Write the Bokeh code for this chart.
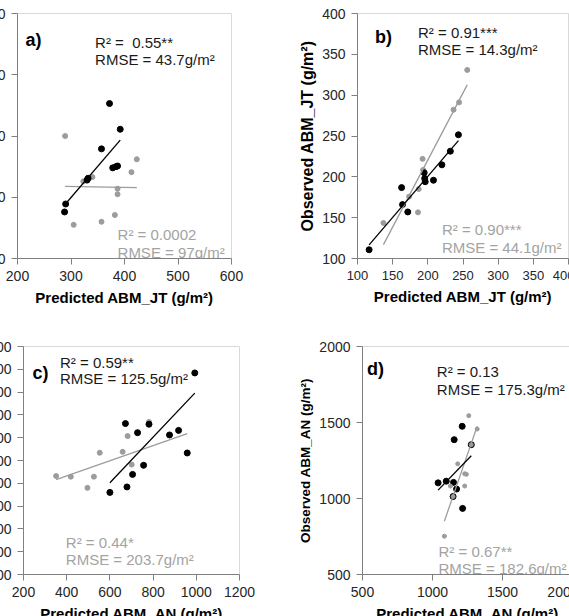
import numpy as np
from bokeh.plotting import figure
from bokeh.layouts import column, row
from bokeh.models import Range1d, FixedTicker, Label
from bokeh.embed import file_html
from bokeh.resources import INLINE

# ---- panel a: ABM_JT, predicted vs observed (g/m2) ----
a_black_pred = [372, 392, 357, 378, 384, 387, 332, 330, 290, 288]
a_black_obs = [453, 411, 379, 348, 350, 351, 331, 328, 289, 276]
a_gray_pred = [289, 423, 413, 340, 323, 387, 387, 382, 357, 305]
a_gray_obs = [400, 362, 341, 333, 326, 314, 305, 271, 260, 255]

# ---- panel b: ABM_JT ----
b_black_pred = [116.5, 164, 162.7, 171.5, 194.8, 195.5, 196.3, 208, 220, 232, 243.5]
b_black_obs = [110.7, 166, 186.8, 157, 205, 198, 194, 195.8, 214.7, 231.4, 251.5]
b_gray_pred = [136.9, 173.4, 187, 186, 192.5, 193.3, 236.6, 244.4, 256]
b_gray_obs = [143.5, 175.8, 185, 156.5, 222, 208.5, 282.2, 291.2, 330.9]

# ---- panel c: ABM_AN ----
c_black_pred = [600, 679, 705, 756, 672, 728, 781, 876, 918, 993]
c_black_obs = [560, 584, 639, 679, 862, 822, 859, 812, 832, 1084]
c_gray_pred = [351, 419, 496, 526, 553, 659, 682, 701, 781, 958]
c_gray_obs = [632, 629, 580, 629, 734, 738, 807, 682, 869, 733]

# ---- panel d: ABM_AN ----
d_black_pred = [1040, 1098, 1150, 1172, 1147, 1215, 1155, 1212, 1277]
d_black_obs = [1103, 1114, 1106, 1062, 1013, 935, 1387, 1475, 1354]
d_gray_pred = [1259, 1180, 1230, 1242, 1128, 1230, 1085, 1319, 1277, 1147]
d_gray_obs = [1545, 1228, 1163, 1159, 1082, 1082, 752, 1457, 1354, 1013]

# axis ticks
a_ticks = [200, 300, 400, 500, 600]
b_ticks = [100, 150, 200, 250, 300, 350, 400]
c_xticks = [200, 400, 600, 800, 1000, 1200]
c_yticks = [200, 300, 400, 500, 600, 700, 800, 900, 1000, 1100, 1200]
d_ticks = [500, 1000, 1500, 2000]

FONT = "Liberation Sans"
BLACK = "#000000"
GRAY = "#9c9c9c"
GRAY_TXT = "#a3a3a3"
AXIS = "#808080"
NBSP = "\u00a0"


def panel(width, height, xr, yr, xticks, yticks, xlabel, ylabel, borders,
          xtick_size="14px", ylabel_size="16px", margin=None):
    top, right, bottom, left = borders
    p = figure(width=width, height=height,
               x_range=Range1d(*xr), y_range=Range1d(*yr),
               output_backend="svg", toolbar_location=None,
               min_border_top=top, min_border_right=right,
               min_border_bottom=bottom, min_border_left=left)
    if margin is not None:
        p.margin = margin
    p.xgrid.visible = False
    p.ygrid.visible = False
    p.outline_line_color = "#d9d9d9"
    p.outline_line_width = 1
    p.background_fill_color = "white"
    p.border_fill_color = "white"
    p.xaxis.ticker = FixedTicker(ticks=xticks)
    p.yaxis.ticker = FixedTicker(ticks=yticks)
    for ax in (p.xaxis[0], p.yaxis[0]):
        ax.axis_line_color = AXIS
        ax.major_tick_line_color = AXIS
        ax.major_tick_out = 6
        ax.major_tick_in = 0
        ax.minor_tick_line_color = None
        ax.major_label_text_font = FONT
        ax.major_label_text_color = "#262626"
        ax.major_label_standoff = 6
        ax.axis_label_text_font = FONT
        ax.axis_label_text_font_style = "bold"
        ax.axis_label_text_color = "#000000"
        ax.axis_label_standoff = 5
    p.xaxis.major_label_text_font_size = xtick_size
    p.yaxis.major_label_text_font_size = "14px"
    p.xaxis.axis_label = xlabel
    p.xaxis.axis_label_text_font_size = "15px"
    if ylabel:
        p.yaxis.axis_label = ylabel
        p.yaxis.axis_label_text_font_size = ylabel_size
        p.yaxis.axis_label_standoff = 3
    return p


def trend(xs, ys):
    k, b = np.polyfit(xs, ys, 1)
    x0, x1 = min(xs), max(xs)
    return [x0, x1], [k * x0 + b, k * x1 + b]


def note(p, x, y, text, color, size="15px", bold=False):
    p.add_layout(Label(x=x, y=y, text=text, text_color=color,
                       text_font=FONT, text_font_size=size,
                       text_font_style="bold" if bold else "normal",
                       text_baseline="alphabetic", text_align="left"))


def draw(p, bx, by, gx, gy, black_on_top=True, bsize=6, gsize=5):
    gl = trend(gx, gy)
    bl = trend(bx, by)
    if black_on_top:
        p.scatter(gx, gy, size=gsize, color=GRAY)
        p.scatter(bx, by, size=bsize, color=BLACK)
    else:
        p.scatter(bx, by, size=bsize, color=BLACK)
        p.scatter(gx, gy, size=gsize, color=GRAY)
    p.line(*gl, line_color=GRAY, line_width=1.3)
    p.line(*bl, line_color=BLACK, line_width=1.3)


XL_JT = "Predicted ABM_JT (g/m²)"
XL_AN = "Predicted ABM_AN (g/m²)"

# panel a
pa = panel(320, 310, (200, 600), (200, 600), a_ticks, a_ticks, XL_JT, None,
           (10, 56, 52, 50), margin=(0, 0, 0, -33))
draw(pa, a_black_pred, a_black_obs, a_gray_pred, a_gray_obs)
note(pa, 215, 556, "a)", BLACK, size="18px", bold=True)
note(pa, 345, 553, "R² =" + NBSP + " 0.55**", "#1a1a1a")
note(pa, 345, 525, "RMSE = 43.7g/m²", "#1a1a1a")
note(pa, 387, 240, "R² = 0.0002", GRAY_TXT)
note(pa, 387, 210, "RMSE = 97g/m²", GRAY_TXT)

# panel b
pb = panel(287, 310, (100, 400), (100, 400), b_ticks, b_ticks, XL_JT,
           "Observed ABM_JT (g/m²)", (13, 6, 52, 70),
           xtick_size="13px", ylabel_size="16px")
draw(pb, b_black_pred, b_black_obs, b_gray_pred, b_gray_obs)
note(pb, 125, 371, "b)", BLACK, size="18px", bold=True)
note(pb, 186, 377, "R² = 0.91***", "#1a1a1a")
note(pb, 186, 356, "RMSE = 14.3g/m²", "#1a1a1a")
note(pb, 220, 135, "R² = 0.90***", GRAY_TXT)
note(pb, 220, 113.5, "RMSE = 44.1g/m²", GRAY_TXT)

# panel c
pc = panel(325, 318, (200, 1200), (200, 1200), c_xticks, c_yticks, XL_AN, None,
           (34, 53, 52, 56), margin=(0, 0, 0, -33))
draw(pc, c_black_pred, c_black_obs, c_gray_pred, c_gray_obs)
# the last point of the grey series is marked in black
pc.scatter([c_gray_pred[-1]], [c_gray_obs[-1]], size=6, color=BLACK)
note(pc, 242, 1083, "c)", BLACK, size="18px", bold=True)
note(pc, 369, 1131, "R² = 0.59**", "#1a1a1a")
note(pc, 369, 1059, "RMSE = 125.5g/m²", "#1a1a1a")
note(pc, 396, 340, "R² = 0.44*", GRAY_TXT)
note(pc, 396, 265, "RMSE = 203.7g/m²", GRAY_TXT)

# panel d
pd_ = panel(286, 318, (500, 2000), (500, 2000), d_ticks, d_ticks, XL_AN,
            "Observed ABM_AN (g/m²)", (36, 6, 54, 70), ylabel_size="13.5px")
draw(pd_, d_black_pred, d_black_obs, d_gray_pred, d_gray_obs,
     black_on_top=False, bsize=6, gsize=4)
note(pd_, 532, 1850, "d)", BLACK, size="18px", bold=True)
note(pd_, 1031, 1833, "R² = 0.13", "#1a1a1a")
note(pd_, 1031, 1719, "RMSE = 175.3g/m²", "#1a1a1a")
note(pd_, 1043, 654, "R² = 0.67**", GRAY_TXT)
note(pd_, 1043, 540, "RMSE = 182.6g/m²", GRAY_TXT)

layout = column(row(pa, pb), row(pc, pd_))

open("out.html", "w").write(file_html(layout, INLINE))
